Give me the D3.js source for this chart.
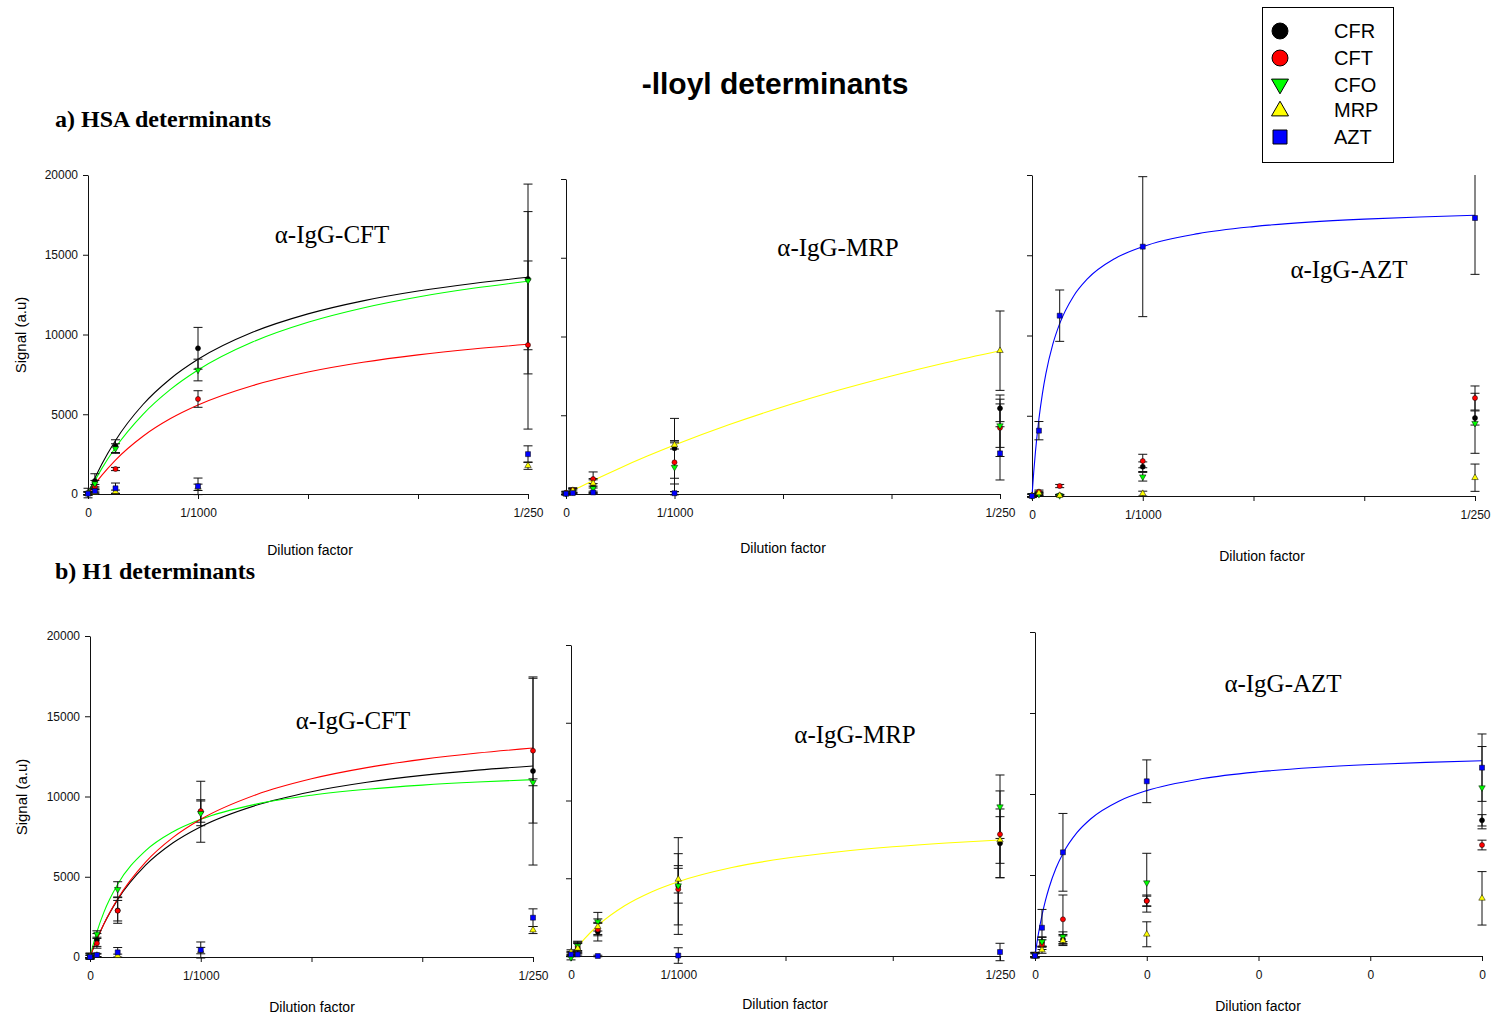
<!DOCTYPE html>
<html><head><meta charset="utf-8">
<script src="https://cdn.jsdelivr.net/npm/d3@7"></script>
<style>
body{margin:0;background:#fff}
svg{display:block}
text{font-family:"Liberation Sans",Arial,sans-serif}
</style>
</head><body>
<svg id="c" width="1492" height="1016"></svg>
<script>
// ---------------- DATA ----------------
const seriesNames = ["CFR", "CFT", "CFO", "MRP", "AZT"];
const dilutions = [0, 1/16000, 1/4000, 1/1000, 1/250];
const xTickValues = [0, 0.001, 0.002, 0.003, 0.004];
const xTickLabelsHSA = ["0", "1/1000", "", "", "1/250"];
const xTickLabelsZero = ["0", "0", "0", "0", "0"];
const yTickValues = [0, 5000, 10000, 15000, 20000];

// x grid of the fitted saturation curves
const fitX = [0, 0.00003125, 0.0000625, 0.000125, 0.00025, 0.0005, 0.00075, 0.001, 0.0015, 0.002, 0.0025, 0.003, 0.0035, 0.004];
const fitXSteep = [0, 0.000015625, 0.00003125, 0.0000625, 0.00009375, 0.000125, 0.0001875, 0.00025, 0.000375, 0.0005, 0.00075, 0.001, 0.0015, 0.002, 0.0025, 0.003, 0.0035, 0.004];

// a) HSA, alpha-IgG-CFT  (rows: CFR, CFT, CFO, MRP, AZT)
const hsaCftMeans = [
  [60, 820, 3000, 9135, 13480],
  [40, 450, 1567, 5955, 9340],
  [50, 650, 2850, 7774, 13375],
  [30, 100, 145, 420, 1775],
  [20, 180, 357, 480, 2500]
];
const hsaCftErrors = [
  [300, 450, 400, 1310, 5950],
  [100, 150, 100, 520, 5270],
  [100, 200, 300, 680, 4330],
  [80, 80, 100, 200, 230],
  [100, 100, 330, 520, 520]
];
const hsaCftFitCFR = [0, 507, 985, 1863, 3358, 5611, 7227, 8443, 10151, 11293, 12110, 12724, 13202, 13585];
const hsaCftFitCFT = [0, 314, 612, 1166, 2128, 3622, 4728, 5580, 6806, 7647, 8259, 8724, 9090, 9385];
const hsaCftFitCFO = [0, 426, 832, 1589, 2914, 4997, 6559, 7775, 9543, 10768, 11666, 12353, 12896, 13335];

// a) HSA, alpha-IgG-MRP
const hsaMrpMeans = [
  [50, 200, 500, 2900, 5440],
  [80, 250, 950, 2010, 4200],
  [40, 150, 360, 1700, 4340],
  [0, 220, 680, 3110, 9100],
  [20, 60, 100, 50, 2580]
];
const hsaMrpErrors = [
  [100, 150, 400, 1900, 845],
  [100, 150, 450, 1375, 1820],
  [100, 100, 300, 1550, 1380],
  [50, 100, 300, 255, 2520],
  [50, 50, 80, 100, 1690]
];
const hsaMrpFitMRP = [0, 110, 220, 435, 856, 1657, 2406, 3110, 4397, 5542, 6570, 7496, 8336, 9100];

// a) HSA, alpha-IgG-AZT
const hsaAztMeans = [
  [30, 120, 50, 1825, 4860],
  [40, 270, 620, 2180, 6105],
  [20, 100, 30, 1200, 4530],
  [10, 190, 30, 150, 1140],
  [0, 4070, 11235, 15535, 17320]
];
const hsaAztErrors = [
  [100, 100, 50, 300, 440],
  [100, 100, 100, 420, 750],
  [100, 80, 50, 270, 1870],
  [80, 100, 50, 150, 850],
  [100, 570, 1600, 4360, 3510]
];
const hsaAztFitAZT = [0, 1496, 2766, 4804, 6368, 7606, 9442, 10738, 12447, 13522, 14801, 15536, 16348, 16786, 17061, 17249, 17386, 17490];

// b) H1, alpha-IgG-CFT
const h1CftMeans = [
  [50, 1060, 2900, 9050, 11590],
  [40, 850, 2885, 9097, 12855],
  [60, 1433, 4215, 8950, 10885],
  [20, 100, 80, 400, 1680],
  [0, 125, 290, 436, 2450]
];
const h1CftErrors = [
  [200, 400, 800, 1900, 5860],
  [150, 300, 640, 700, 4510],
  [150, 200, 475, 770, 215],
  [80, 80, 100, 200, 220],
  [100, 100, 300, 500, 550]
];
const h1CftFitCFR = [0, 575, 1104, 2048, 3575, 5703, 7115, 8119, 9454, 10301, 10886, 11315, 11642, 11900];
const h1CftFitCFT = [0, 568, 1097, 2051, 3629, 5898, 7450, 8580, 10112, 11104, 11799, 12312, 12707, 13020];
const h1CftFitCFO = [0, 837, 1567, 2778, 4527, 6608, 7802, 8578, 9525, 10082, 10448, 10707, 10900, 11050];

// b) H1, alpha-IgG-MRP
const h1MrpMeans = [
  [100, 500, 1565, 4500, 7245],
  [150, 600, 1700, 4290, 7825],
  [-100, 650, 2205, 4520, 9600],
  [250, 490, 1885, 4930, 7460],
  [100, 100, 0, 30, 257]
];
const h1MrpErrors = [
  [150, 300, 600, 3110, 2210],
  [150, 300, 400, 2290, 2790],
  [150, 300, 600, 1120, 2040],
  [150, 360, 500, 880, 1500],
  [100, 100, 50, 500, 560]
];
const h1MrpFitMRP = [0, 301, 584, 1098, 1961, 3231, 4121, 4779, 5688, 6285, 6708, 7022, 7266, 7460];

// b) H1, alpha-IgG-AZT
const h1AztMeans = [
  [50, 845, 1030, 3415, 8375],
  [80, 700, 2265, 3395, 6850],
  [60, 885, 1190, 4525, 10390],
  [30, 370, 945, 1340, 3560],
  [20, 1745, 6400, 10785, 11625]
];
const h1AztErrors = [
  [150, 300, 300, 350, 350],
  [150, 300, 1500, 300, 300],
  [150, 300, 300, 1815, 2540],
  [100, 200, 300, 770, 1650],
  [150, 1130, 2400, 1320, 2080]
];
const h1AztFitAZT = [0, 735, 1391, 2510, 3429, 4198, 5412, 6326, 7613, 8474, 9555, 10207, 10953, 11369, 11634, 11818, 11952, 12055];

// ---------------- STYLE / LAYOUT ----------------
const seriesColors = ["#000000", "#ff0000", "#00ff00", "#ffff00", "#0000ff"];
const seriesShapes = ["circle", "circle", "down", "up", "square"];

const panels = [
  {l:88, r:528, t:175, b:494, means:hsaCftMeans, errs:hsaCftErrors,
   fits:[{s:0,x:fitX,y:hsaCftFitCFR},{s:2,x:fitX,y:hsaCftFitCFO},{s:1,x:fitX,y:hsaCftFitCFT}],
   xl:xTickLabelsHSA, yl:true, name:"α-IgG-CFT", nx:332, ny:243, dx:310, dy:555, sx:26, sy:335},
  {l:566, r:1000, t:179, b:494, means:hsaMrpMeans, errs:hsaMrpErrors,
   fits:[{s:3,x:fitX,y:hsaMrpFitMRP}],
   xl:xTickLabelsHSA, yl:false, name:"α-IgG-MRP", nx:838, ny:256, dx:783, dy:553},
  {l:1032, r:1475, t:175, b:496, means:hsaAztMeans, errs:hsaAztErrors,
   fits:[{s:4,x:fitXSteep,y:hsaAztFitAZT}],
   xl:xTickLabelsHSA, yl:false, name:"α-IgG-AZT", nx:1349, ny:278, dx:1262, dy:561},
  {l:90, r:533, t:636, b:957, means:h1CftMeans, errs:h1CftErrors,
   fits:[{s:0,x:fitX,y:h1CftFitCFR},{s:2,x:fitX,y:h1CftFitCFO},{s:1,x:fitX,y:h1CftFitCFT}],
   xl:xTickLabelsHSA, yl:true, name:"α-IgG-CFT", nx:353, ny:729, dx:312, dy:1012, sx:27, sy:797},
  {l:571, r:1000, t:645, b:956, means:h1MrpMeans, errs:h1MrpErrors,
   fits:[{s:3,x:fitX,y:h1MrpFitMRP}],
   xl:xTickLabelsHSA, yl:false, name:"α-IgG-MRP", nx:855, ny:743, dx:785, dy:1009},
  {l:1035, r:1482, t:632, b:956, means:h1AztMeans, errs:h1AztErrors,
   fits:[{s:4,x:fitXSteep,y:h1AztFitAZT}],
   xl:xTickLabelsZero, yl:false, name:"α-IgG-AZT", nx:1283, ny:692, dx:1258, dy:1011}
];

const svg = d3.select("#c");
const defs = svg.append("defs");

function symPath(shape, area) {
  if (shape === "circle") return d3.symbol(d3.symbolCircle, area)();
  if (shape === "square") return d3.symbol(d3.symbolSquare, area)();
  return d3.symbol(d3.symbolTriangle, area)();
}

panels.forEach((p, pi) => {
  const x = d3.scaleLinear().domain([0, 0.004]).range([p.l, p.r]);
  const y = d3.scaleLinear().domain([0, 20000]).range([p.b, p.t]);
  const g = svg.append("g");

  defs.append("clipPath").attr("id", "clip" + pi)
    .append("rect").attr("x", p.l - 20).attr("y", p.t).attr("width", p.r - p.l + 40).attr("height", p.b - p.t + 40);

  // axes
  const xa = d3.axisBottom(x).tickValues(xTickValues).tickSize(5).tickSizeOuter(0).tickPadding(9)
    .tickFormat((d, i) => p.xl[i]);
  const gx = g.append("g").attr("transform", `translate(0,${p.b})`).call(xa);
  const ya = d3.axisLeft(y).tickValues(yTickValues).tickSize(5).tickSizeOuter(0).tickPadding(5)
    .tickFormat(d => p.yl ? String(d) : "");
  const gy = g.append("g").attr("transform", `translate(${p.l},0)`).call(ya);
  [gx, gy].forEach(a => {
    a.selectAll("path.domain").attr("stroke", "#111").attr("stroke-width", 1);
    a.selectAll(".tick line").attr("stroke", "#111");
    a.selectAll(".tick text").attr("fill", "#111").style("font-size", "12px")
      .style("font-family", "'Liberation Sans', Arial, sans-serif");
  });

  const plot = g.append("g").attr("clip-path", `url(#clip${pi})`);

  // fitted curves
  p.fits.forEach(f => {
    const pts = f.x.map((xv, i) => [xv, f.y[i]]);
    plot.append("path")
      .attr("d", d3.line().x(d => x(d[0])).y(d => y(d[1])).curve(d3.curveMonotoneX)(pts))
      .attr("fill", "none").attr("stroke", seriesColors[f.s]).attr("stroke-width", 1.1);
  });

  // error bars
  p.means.forEach((row, si) => {
    row.forEach((m, di) => {
      const e = p.errs[si][di];
      const cx = x(dilutions[di]);
      const y1 = y(m + e), y2 = y(m - e);
      const eg = plot.append("g").attr("stroke", "#111").attr("stroke-width", 1);
      eg.append("line").attr("x1", cx).attr("x2", cx).attr("y1", y1).attr("y2", y2);
      eg.append("line").attr("x1", cx - 4.5).attr("x2", cx + 4.5).attr("y1", y1).attr("y2", y1);
      eg.append("line").attr("x1", cx - 4.5).attr("x2", cx + 4.5).attr("y1", y2).attr("y2", y2);
    });
  });

  // markers
  p.means.forEach((row, si) => {
    const shape = seriesShapes[si];
    const area = shape === "circle" ? 20 : shape === "square" ? 25 : 18;
    row.forEach((m, di) => {
      plot.append("path")
        .attr("d", symPath(shape, area))
        .attr("transform", `translate(${x(dilutions[di])},${y(m)})` + (shape === "down" ? " rotate(180)" : ""))
        .attr("fill", seriesColors[si]).attr("stroke", "#000").attr("stroke-width", 0.5);
    });
  });

  // panel label
  g.append("text").attr("x", p.nx).attr("y", p.ny).attr("text-anchor", "middle")
    .style("font-family", "'Liberation Serif','Times New Roman',serif").style("font-size", "25px")
    .text(p.name);
  // x axis title
  g.append("text").attr("x", p.dx).attr("y", p.dy).attr("text-anchor", "middle")
    .style("font-size", "14px").text("Dilution factor");
  if (p.yl) {
    g.append("text").attr("transform", `translate(${p.sx},${p.sy}) rotate(-90)`)
      .attr("text-anchor", "middle").style("font-size", "15px").text("Signal (a.u)");
  }
});

// titles
svg.append("text").attr("x", 775).attr("y", 94).attr("text-anchor", "middle")
  .style("font-size", "30px").style("font-weight", "bold").text("-lloyl determinants");
svg.append("text").attr("x", 55).attr("y", 127)
  .style("font-family", "'Liberation Serif','Times New Roman',serif").style("font-size", "24px").style("font-weight", "bold")
  .text("a) HSA determinants");
svg.append("text").attr("x", 55).attr("y", 579)
  .style("font-family", "'Liberation Serif','Times New Roman',serif").style("font-size", "24px").style("font-weight", "bold")
  .text("b) H1 determinants");

// legend
const lg = svg.append("g");
lg.append("rect").attr("x", 1262.5).attr("y", 7.5).attr("width", 131).attr("height", 155)
  .attr("fill", "#fff").attr("stroke", "#000").attr("stroke-width", 1);
const legendY = [31, 58, 85, 110, 137];
seriesNames.forEach((n, i) => {
  const shape = seriesShapes[i];
  const area = shape === "circle" ? 200 : shape === "square" ? 196 : 125;
  lg.append("path").attr("d", symPath(shape, area))
    .attr("transform", `translate(1280,${legendY[i] + (shape === "up" ? 1 : shape === "down" ? -1 : 0)})` + (shape === "down" ? " rotate(180)" : ""))
    .attr("fill", seriesColors[i]).attr("stroke", "#000").attr("stroke-width", 1);
  lg.append("text").attr("x", 1334).attr("y", legendY[i] + 7).style("font-size", "20px").text(n);
});
</script>
</body></html>
